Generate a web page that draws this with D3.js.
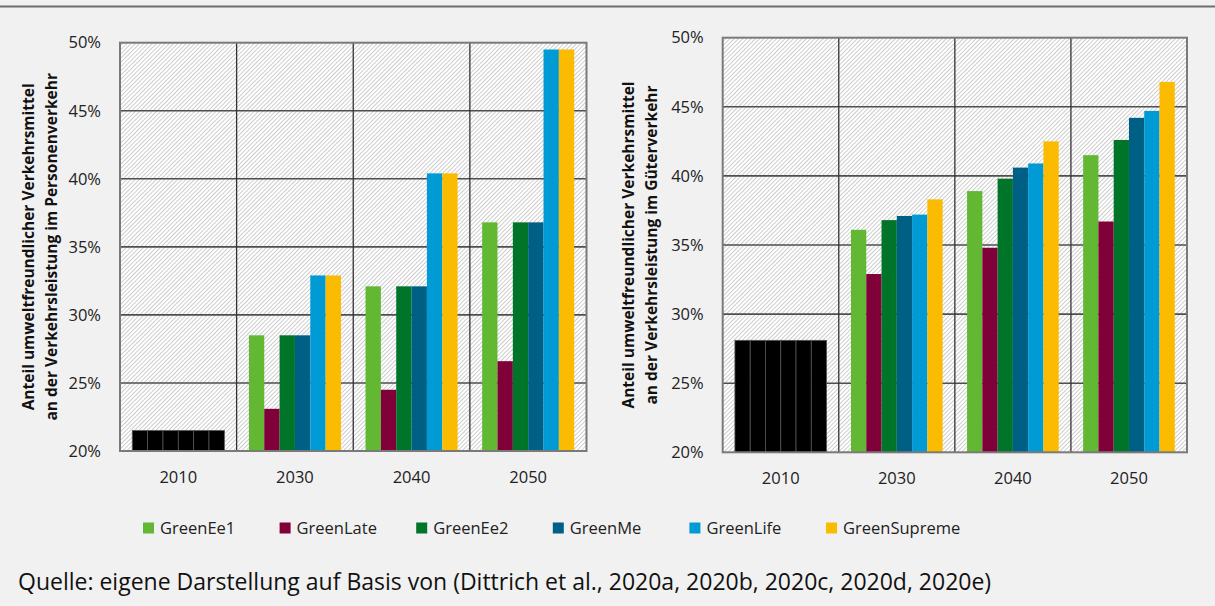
<!DOCTYPE html>
<html>
<head>
<meta charset="utf-8">
<script src="https://cdn.jsdelivr.net/npm/d3@7"></script>
<style>
  html, body { margin: 0; padding: 0; background: #f1f1f1; }
  svg { display: block; font-family: "Open Sans", sans-serif; }
</style>
</head>
<body>
<div id="chart"></div>
<script>
// categories
const years = ["2010", "2030", "2040", "2050"];
const scenarios = ["GreenEe1", "GreenLate", "GreenEe2", "GreenMe", "GreenLife", "GreenSupreme"];
const scenarioColors = ["#62b832", "#80003a", "#007428", "#005f85", "#009bd5", "#fbbb00"];
const baseYear = "2010";
const yTicks = [20, 25, 30, 35, 40, 45, 50];

// Personenverkehr, one row per scenario (2010, 2030, 2040, 2050), in %
const personenverkehr = [
    [21.5, 28.5, 32.1, 36.8],   // GreenEe1
    [21.5, 23.1, 24.5, 26.6],   // GreenLate
    [21.5, 28.5, 32.1, 36.8],   // GreenEe2
    [21.5, 28.5, 32.1, 36.8],   // GreenMe
    [21.5, 32.9, 40.4, 49.5],   // GreenLife
    [21.5, 32.9, 40.4, 49.5]    // GreenSupreme
];

// Güterverkehr
const gueterverkehr = [
    [28.1, 36.1, 38.9, 41.5],
    [28.1, 32.9, 34.8, 36.7],
    [28.1, 36.8, 39.8, 42.6],
    [28.1, 37.1, 40.6, 44.2],
    [28.1, 37.2, 40.9, 44.7],
    [28.1, 38.3, 42.5, 46.8]
];

const titlePersonen = ["Anteil umweltfreundlicher Verkehrsmittel", "an der Verkehrsleistung im Personenverkehr"];
const titleGueter = ["Anteil umweltfreundlicher Verkehrsmittel", "an der Verkehrsleistung im Güterverkehr"];
const sourceText = "Quelle: eigene Darstellung auf Basis von (Dittrich et al., 2020a, 2020b, 2020c, 2020d, 2020e)";

const W = 1215, H = 606;

const svg = d3.select("#chart").append("svg")
    .attr("width", W)
    .attr("height", H);

svg.append("rect").attr("width", W).attr("height", H).attr("fill", "#f1f1f1");

// hatch pattern for the plot background
const defs = svg.append("defs");
defs.append("pattern")
    .attr("id", "hatch")
    .attr("patternUnits", "userSpaceOnUse")
    .attr("width", 3)
    .attr("height", 3)
    .attr("patternTransform", "rotate(45)")
    .call(p => {
        p.append("rect").attr("width", 3).attr("height", 3).attr("fill", "#ffffff");
        p.append("line")
            .attr("x1", 0.5).attr("y1", 0).attr("x2", 0.5).attr("y2", 3)
            .attr("stroke", "#cdcdcd")
            .attr("stroke-width", 1);
    });

// top rule
svg.append("line")
    .attr("x1", 0).attr("x2", W)
    .attr("y1", 6.5).attr("y2", 6.5)
    .attr("stroke", "#6e6e6e")
    .attr("stroke-width", 2);

function drawPanel(cfg) {
    const { values, title, left, right, top, bottom, titleX } = cfg;

    const x0 = d3.scaleBand()
        .domain(years)
        .range([left, right])
        .padding(0);

    const x1 = d3.scaleBand()
        .domain(scenarios)
        .range([0, x0.bandwidth()])
        .paddingInner(0)
        .paddingOuter(0.8);

    const y = d3.scaleLinear()
        .domain([20, 50])
        .range([bottom, top]);

    const g = svg.append("g");

    // plot background
    g.append("rect")
        .attr("x", left).attr("y", top)
        .attr("width", right - left).attr("height", bottom - top)
        .attr("fill", "url(#hatch)");

    // horizontal grid
    g.append("g")
        .selectAll("line")
        .data(yTicks.slice(1, -1))
        .join("line")
        .attr("x1", left).attr("x2", right)
        .attr("y1", d => y(d)).attr("y2", d => y(d))
        .attr("stroke", "#4f4f4f")
        .attr("stroke-width", 1.6);

    // vertical category separators
    g.append("g")
        .selectAll("line")
        .data(years.slice(1))
        .join("line")
        .attr("x1", d => x0(d)).attr("x2", d => x0(d))
        .attr("y1", top).attr("y2", bottom)
        .attr("stroke", "#333")
        .attr("stroke-width", 1.3);

    // bars
    const rows = [];
    scenarios.forEach((s, i) => {
        years.forEach((yr, j) => {
            rows.push({ scenario: s, year: yr, value: values[i][j], color: scenarioColors[i] });
        });
    });

    g.append("g")
        .selectAll("rect")
        .data(rows)
        .join("rect")
        .attr("x", d => x0(d.year) + x1(d.scenario))
        .attr("y", d => y(d.value))
        .attr("width", x1.bandwidth())
        .attr("height", d => y(20) - y(d.value))
        .attr("fill", d => d.year === baseYear ? "#000" : d.color)
        .attr("stroke", d => d.year === baseYear ? "#555" : "none")
        .attr("stroke-width", 0.8);

    // frame
    g.append("rect")
        .attr("x", left).attr("y", top)
        .attr("width", right - left).attr("height", bottom - top)
        .attr("fill", "none")
        .attr("stroke", "#7a7a7a")
        .attr("stroke-width", 2);

    // y axis labels
    g.append("g")
        .attr("transform", `translate(${left},0)`)
        .call(d3.axisLeft(y).tickValues(yTicks).tickFormat(d => d + "%").tickSize(0).tickPadding(19))
        .call(a => a.select(".domain").remove())
        .call(a => a.selectAll("text")
            .attr("font-family", "'Open Sans', sans-serif")
            .attr("font-size", 16.5)
            .attr("fill", "#222"));

    // x axis labels
    g.append("g")
        .attr("transform", `translate(0,${bottom})`)
        .call(d3.axisBottom(x0).tickSize(0).tickPadding(20))
        .call(a => a.select(".domain").remove())
        .call(a => a.selectAll("text")
            .attr("font-family", "'Open Sans', sans-serif")
            .attr("font-size", 16.5)
            .attr("fill", "#222"));

    // y axis title (two lines)
    const cy = (top + bottom) / 2;
    g.append("text")
        .attr("transform", `translate(${titleX},${cy}) rotate(-90)`)
        .attr("text-anchor", "middle")
        .attr("font-size", 15.5)
        .attr("font-weight", "bold")
        .attr("fill", "#111")
        .selectAll("tspan")
        .data(title)
        .join("tspan")
        .attr("x", 0)
        .attr("dy", (d, i) => i === 0 ? 0 : 22.5)
        .text(d => d);
}

drawPanel({
    values: personenverkehr,
    title: titlePersonen,
    left: 120, right: 586.5, top: 42.7, bottom: 451,
    titleX: 34
});

drawPanel({
    values: gueterverkehr,
    title: titleGueter,
    left: 722.7, right: 1187, top: 37.7, bottom: 452.3,
    titleX: 634
});

// legend
const legend = svg.append("g").attr("transform", "translate(143,522.5)");
const legendItems = legend.selectAll("g")
    .data(scenarios)
    .join("g")
    .attr("transform", (d, i) => `translate(${i * 136.6},0)`);

legendItems.append("rect")
    .attr("width", 11).attr("height", 11)
    .attr("fill", (d, i) => scenarioColors[i]);

legendItems.append("text")
    .attr("x", 17).attr("y", 11.5)
    .attr("font-size", 16.5)
    .attr("fill", "#222")
    .text(d => d);

// source
svg.append("text")
    .attr("x", 18).attr("y", 590)
    .attr("font-size", 23)
    .attr("fill", "#111")
    .text(sourceText);
</script>
</body>
</html>
